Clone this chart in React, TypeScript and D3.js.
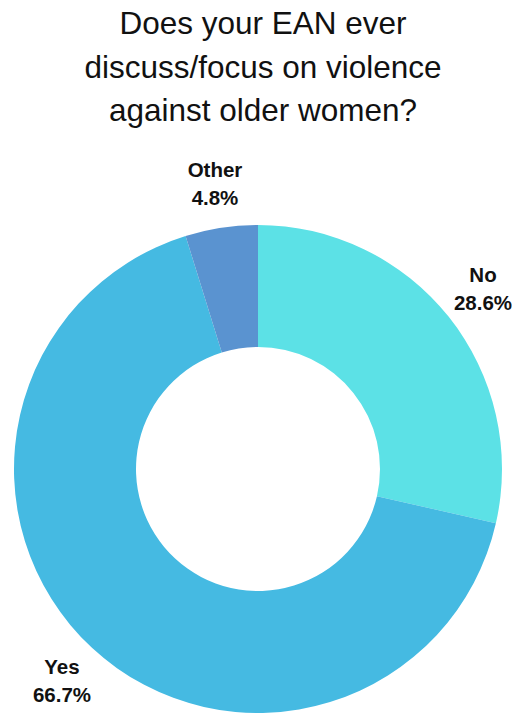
import React from "react";
import * as d3 from "d3";

const categories = ["No", "Yes", "Other"];
const values = [28.6, 66.7, 4.8];
const labels = ["28.6%", "66.7%", "4.8%"];
const colors = ["#5CE1E6", "#45BAE2", "#5A93D0"];
const titleLines = ["Does your EAN ever", "discuss/focus on violence", "against older women?"];

const W = 512;
const H = 713;

export default function App() {
  const cx = 258;
  const cy = 469;
  const outerR = 244;
  const innerR = 122;
  const pie = d3.pie<number>().sort(null).value((d) => d)(values);
  const arc = d3.arc<d3.PieArcDatum<number>>().innerRadius(innerR).outerRadius(outerR);
  const labelPos: [number, number][] = [
    [483, 282],
    [62, 674],
    [215, 177],
  ];
  return (
    <svg
      width={W}
      height={H}
      style={{ position: "absolute", left: 0, top: 0, background: "#fff" }}
      fontFamily="Liberation Sans, Arial, sans-serif"
    >
      <rect width={W} height={H} fill="#fff" />
      {titleLines.map((t, i) => (
        <text key={i} x={263} y={34 + i * 43.5} textAnchor="middle" fontSize={31.5} fill="#111">
          {t}
        </text>
      ))}
      <g transform={`translate(${cx},${cy})`}>
        {pie.map((p, i) => (
          <path key={categories[i]} d={arc(p) || ""} fill={colors[i]} />
        ))}
      </g>
      {categories.map((c, i) => (
        <g key={c}>
          <text x={labelPos[i][0]} y={labelPos[i][1]} textAnchor="middle" fontSize={20.5} fontWeight="bold" fill="#111">
            {c}
          </text>
          <text x={labelPos[i][0]} y={labelPos[i][1] + 28} textAnchor="middle" fontSize={20.5} fontWeight="bold" fill="#111">
            {labels[i]}
          </text>
        </g>
      ))}
    </svg>
  );
}
